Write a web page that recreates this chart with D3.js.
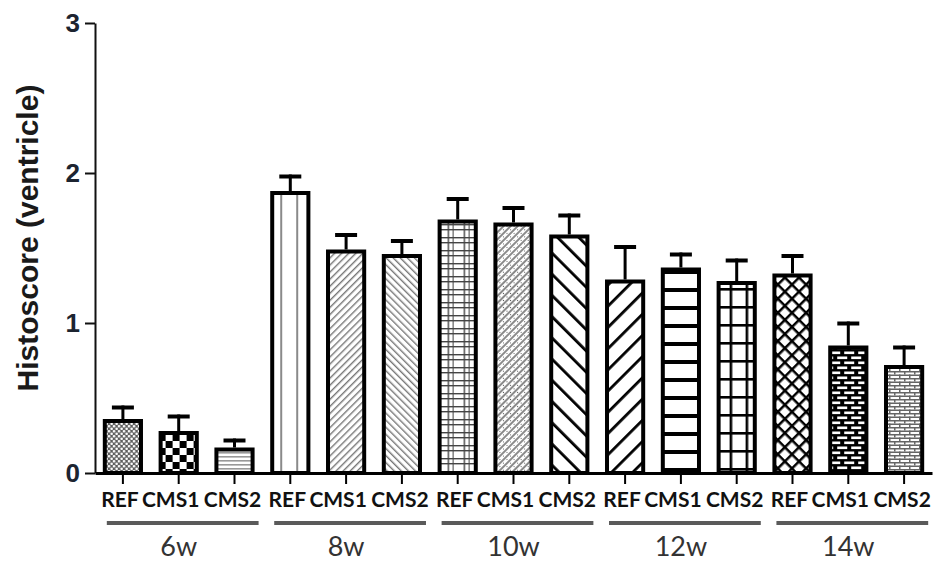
<!DOCTYPE html>
<html>
<head>
<meta charset="utf-8">
<script src="https://cdn.jsdelivr.net/npm/d3@7"></script>
<style>
  html, body { margin: 0; padding: 0; background: #fff; }
  svg { display: block; }
</style>
</head>
<body>
<script>
// ---------------- DATA ----------------
const groups = ["6w", "8w", "10w", "12w", "14w"];
const series = ["REF", "CMS1", "CMS2"];
const refMeans  = [0.36, 1.88, 1.69, 1.29, 1.33];
const cms1Means = [0.28, 1.49, 1.67, 1.37, 0.85];
const cms2Means = [0.17, 1.46, 1.59, 1.28, 0.72];
const refErr    = [0.09, 0.11, 0.15, 0.23, 0.13];
const cms1Err   = [0.11, 0.11, 0.11, 0.10, 0.16];
const cms2Err   = [0.06, 0.10, 0.14, 0.15, 0.13];
const yTicks = [0, 1, 2, 3];
const yTitle = "Histoscore (ventricle)";

const meansBySeries = [refMeans, cms1Means, cms2Means];
const errBySeries = [refErr, cms1Err, cms2Err];
const bars = [];
groups.forEach((g, gi) => series.forEach((s, si) => {
  bars.push({ key: g + "|" + s, group: g, series: s, si: si, value: meansBySeries[si][gi], err: errBySeries[si][gi], idx: bars.length });
}));

// ---------------- LAYOUT ----------------
const W = 947, H = 565;
const svg = d3.select("body").append("svg").attr("width", W).attr("height", H);
const defs = svg.append("defs");

const y = d3.scaleLinear().domain([0, 3]).range([473, 23]);
const x = d3.scaleBand().domain(bars.map(d => d.key)).range([95, 932]).paddingInner(0.28).paddingOuter(0.14);

// ---------------- PATTERNS (style) ----------------
function rect(p, x0, y0, w, h, fill) { p.append("rect").attr("x", x0).attr("y", y0).attr("width", w).attr("height", h).attr("fill", fill); }
const patternSpecs = [
  { w: 5, h: 5, bg: "#5e5e5e", draw: p => { p.append("circle").attr("cx", 1.25).attr("cy", 1.25).attr("r", 1.3).attr("fill", "#fff"); p.append("circle").attr("cx", 3.75).attr("cy", 3.75).attr("r", 1.3).attr("fill", "#fff"); } },
  { w: 14, h: 14, draw: p => { rect(p, 0, 0, 7, 7, "#000"); rect(p, 7, 7, 7, 7, "#000"); } },
  { w: 4, h: 4, draw: p => { rect(p, 0, 0, 4, 1.6, "#999"); } },
  { w: 16, h: 4, draw: p => { rect(p, 10, 0, 2, 4, "#8a8a8a"); } },
  { w: 5, h: 5, rot: 45, draw: p => { rect(p, 0, 0, 1.4, 5, "#777"); } },
  { w: 5, h: 5, rot: -45, draw: p => { rect(p, 0, 0, 1.4, 5, "#777"); } },
  { w: 16, h: 13, draw: p => { rect(p, 10, 0, 1.4, 13, "#444"); rect(p, 15, 0, 1.4, 13, "#444"); rect(p, 0, 3, 16, 1.4, "#444"); rect(p, 0, 8, 16, 1.4, "#444"); } },
  { w: 5, h: 5, rot: 45, draw: p => { rect(p, 0, 0, 2, 5, "#8a8a8a"); rect(p, 3, 1, 1, 1, "#555"); } },
  { w: 15, h: 15, rot: -45, draw: p => { rect(p, 0, 0, 2.8, 15, "#000"); } },
  { w: 15, h: 15, rot: 45, draw: p => { rect(p, 0, 0, 2.8, 15, "#000"); } },
  { w: 10, h: 18, draw: p => { rect(p, 0, 0, 10, 4, "#000"); } },
  { w: 16, h: 18, draw: p => { rect(p, 0, 0, 16, 2.6, "#000"); rect(p, 13, 0, 2.6, 18, "#000"); } },
  { w: 10, h: 10, rot: 45, draw: p => { rect(p, 0, 0, 2.5, 10, "#000"); rect(p, 0, 0, 10, 2.5, "#000"); } },
  { w: 14, h: 10, bg: "#000", draw: p => { rect(p, 2, 1.5, 10, 2.6, "#fff"); rect(p, -5, 6.5, 10, 2.6, "#fff"); rect(p, 9, 6.5, 10, 2.6, "#fff"); } },
  { w: 10, h: 7, draw: p => { rect(p, 0, 0, 10, 1.5, "#666"); rect(p, 0, 3.5, 10, 1.5, "#666"); rect(p, 0, 0, 1.5, 3.5, "#666"); rect(p, 5, 3.5, 1.5, 3.5, "#666"); } }
];

bars.forEach(d => {
  const spec = patternSpecs[d.idx];
  const p = defs.append("pattern").attr("id", "pat" + d.idx)
    .attr("patternUnits", "userSpaceOnUse")
    .attr("width", spec.w).attr("height", spec.h)
    .attr("x", spec.rot ? 0 : x(d.key)).attr("y", 0);
  if (spec.rot) p.attr("patternTransform", `rotate(${spec.rot})`);
  p.append("rect").attr("width", spec.w).attr("height", spec.h).attr("fill", spec.bg || "#fff");
  spec.draw(p);
});

// ---------------- BARS ----------------
const sw = 4;
const barG = svg.append("g");
barG.selectAll("rect.bar").data(bars).join("rect")
  .attr("class", "bar")
  .attr("x", d => x(d.key) + sw / 2)
  .attr("y", d => y(d.value) + sw / 2)
  .attr("width", x.bandwidth() - sw)
  .attr("height", d => y(0) - y(d.value) - sw / 2)
  .attr("fill", d => `url(#pat${d.idx})`)
  .attr("stroke", "#000")
  .attr("stroke-width", sw);

// Error bars (upper only)
const errG = svg.append("g");
errG.selectAll("line.ev").data(bars).join("line")
  .attr("x1", d => x(d.key) + x.bandwidth() / 2)
  .attr("x2", d => x(d.key) + x.bandwidth() / 2)
  .attr("y1", d => y(d.value))
  .attr("y2", d => y(d.value + d.err))
  .attr("stroke", "#000").attr("stroke-width", 3);
errG.selectAll("line.cap").data(bars).join("line")
  .attr("x1", d => x(d.key) + x.bandwidth() / 2 - 11)
  .attr("x2", d => x(d.key) + x.bandwidth() / 2 + 11)
  .attr("y1", d => y(d.value + d.err) + 2)
  .attr("y2", d => y(d.value + d.err) + 2)
  .attr("stroke", "#000").attr("stroke-width", 4);

// ---------------- AXES ----------------
const yAxis = svg.append("g").attr("transform", "translate(95,0)")
  .call(d3.axisLeft(y).tickValues(yTicks).tickSize(10).tickSizeOuter(0).tickFormat(d3.format("d")));
yAxis.select(".domain").attr("stroke", "#111").attr("stroke-width", 2);
yAxis.selectAll(".tick line").attr("stroke", "#111").attr("stroke-width", 2);
yAxis.selectAll(".tick text")
  .attr("x", -15)
  .attr("font-family", "'Liberation Sans', Arial, sans-serif")
  .attr("font-weight", "bold").attr("font-size", 26).attr("fill", "#1c2430");

const labelShift = [-3, -8, -2]; // per-series label nudge (style)
const xAxis = svg.append("g").attr("transform", `translate(0,${y(0)})`)
  .call(d3.axisBottom(x).tickSize(11).tickSizeOuter(0).tickFormat(k => k.split("|")[1]));
xAxis.select(".domain").attr("stroke", "#000").attr("stroke-width", 3);
xAxis.selectAll(".tick line").attr("stroke", "#000").attr("stroke-width", 2);
xAxis.selectAll(".tick text")
  .attr("y", 34).attr("dy", null)
  .attr("x", k => labelShift[series.indexOf(k.split("|")[1])])
  .attr("font-family", "Lato, 'Open Sans', sans-serif")
  .attr("font-weight", "bold").attr("font-size", 21).attr("fill", "#111");

// Group underlines and group labels
const grpG = svg.append("g");
groups.forEach(g => {
  const first = x(g + "|" + series[0]);
  const last = x(g + "|" + series[series.length - 1]) + x.bandwidth();
  grpG.append("line")
    .attr("x1", first + 4).attr("x2", last + 4)
    .attr("y1", 523).attr("y2", 523)
    .attr("stroke", "#5a5a5a").attr("stroke-width", 4);
  grpG.append("text")
    .attr("x", (first + last) / 2).attr("y", 556)
    .attr("text-anchor", "middle")
    .attr("font-family", "Lato, 'Open Sans', sans-serif")
    .attr("font-size", 27).attr("fill", "#333")
    .text(g);
});

// Y title
svg.append("text")
  .attr("transform", "translate(38,238) rotate(-90)")
  .attr("text-anchor", "middle")
  .attr("font-family", "'Liberation Sans', Arial, sans-serif")
  .attr("font-weight", "bold").attr("font-size", 30).attr("fill", "#1a1a1a")
  .text(yTitle);
</script>
</body>
</html>
